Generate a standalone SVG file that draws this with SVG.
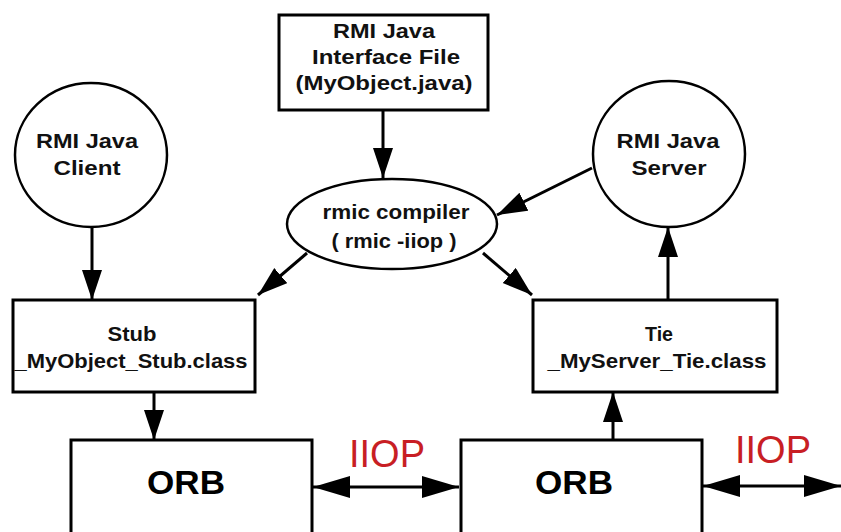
<svg xmlns="http://www.w3.org/2000/svg" width="841" height="532" viewBox="0 0 841 532">
<style>
.shape{fill:#fff;stroke:#000;stroke-width:2.5}
.box{fill:#fff;stroke:#000;stroke-width:3}
.t{font-family:"Liberation Sans",Arial,Helvetica,sans-serif;font-weight:bold;font-size:21px;fill:#111;text-anchor:middle}
.orb{font-size:33px;fill:#000}
.iiop{font-family:"Liberation Sans",Arial,Helvetica,sans-serif;font-size:38px;fill:#c81e24;text-anchor:middle}
.c{stroke:#000;stroke-width:3;fill:none}
</style>
<defs>
<marker id="ah" markerUnits="userSpaceOnUse" markerWidth="32" markerHeight="22" refX="30" refY="10" orient="auto-start-reverse" viewBox="0 0 32 22">
<path d="M0,0 L30,10 L0,20 Z" fill="#000"/>
</marker>
<marker id="ahb" markerUnits="userSpaceOnUse" markerWidth="40" markerHeight="24" refX="37" refY="11" orient="auto-start-reverse" viewBox="0 0 40 24">
<path d="M0,0 L37,11 L0,22 Z" fill="#000"/>
</marker>
</defs>
<rect width="841" height="532" fill="#fff"/>

<g id="connectors">
<line class="c" x1="383" y1="110" x2="383" y2="178" marker-end="url(#ah)"/>
<line class="c" x1="592" y1="168" x2="497" y2="215" marker-end="url(#ah)"/>
<line class="c" x1="307" y1="253" x2="258" y2="295" marker-end="url(#ah)"/>
<line class="c" x1="483" y1="253" x2="532" y2="295" marker-end="url(#ah)"/>
<line class="c" x1="92" y1="227" x2="92" y2="300" marker-end="url(#ah)"/>
<line class="c" x1="668" y1="300" x2="668" y2="227" marker-end="url(#ah)"/>
<line class="c" x1="154" y1="392" x2="154" y2="440" marker-end="url(#ah)"/>
<line class="c" x1="613" y1="440" x2="613" y2="392" marker-end="url(#ah)"/>
<line class="c" x1="313" y1="487" x2="459" y2="487" marker-start="url(#ahb)" marker-end="url(#ahb)"/>
<line class="c" x1="703" y1="486" x2="841" y2="486" marker-start="url(#ahb)" marker-end="url(#ahb)"/>
</g>

<g id="interface-file">
<rect class="box" x="279" y="15" width="209" height="95"/>
<text class="t" x="384" y="38" textLength="102" lengthAdjust="spacingAndGlyphs">RMI Java</text>
<text class="t" x="386" y="64" textLength="148" lengthAdjust="spacingAndGlyphs">Interface File</text>
<text class="t" x="384" y="90" textLength="177" lengthAdjust="spacingAndGlyphs">(MyObject.java)</text>
</g>

<g id="client">
<ellipse class="shape" cx="91" cy="155" rx="76" ry="72"/>
<text class="t" x="87" y="148" textLength="102" lengthAdjust="spacingAndGlyphs">RMI Java</text>
<text class="t" x="87" y="175" textLength="67" lengthAdjust="spacingAndGlyphs">Client</text>
</g>

<g id="server">
<ellipse class="shape" cx="669" cy="154" rx="76" ry="73"/>
<text class="t" x="668" y="148" textLength="103" lengthAdjust="spacingAndGlyphs">RMI Java</text>
<text class="t" x="669" y="175" textLength="75" lengthAdjust="spacingAndGlyphs">Server</text>
</g>

<g id="rmic">
<ellipse class="shape" cx="392" cy="224" rx="105" ry="45"/>
<text class="t" x="396" y="219" textLength="147" lengthAdjust="spacingAndGlyphs">rmic compiler</text>
<text class="t" x="394" y="248" textLength="125" lengthAdjust="spacingAndGlyphs">( rmic -iiop )</text>
</g>

<g id="stub">
<rect class="box" x="13" y="300" width="242" height="92"/>
<text class="t" x="132" y="341" textLength="49" lengthAdjust="spacingAndGlyphs">Stub</text>
<text class="t" x="131" y="368" textLength="233" lengthAdjust="spacingAndGlyphs">_MyObject_Stub.class</text>
</g>

<g id="tie">
<rect class="box" x="533" y="300" width="244" height="92"/>
<text class="t" x="659" y="341" textLength="28" lengthAdjust="spacingAndGlyphs">Tie</text>
<text class="t" x="657" y="368" textLength="219" lengthAdjust="spacingAndGlyphs">_MyServer_Tie.class</text>
</g>

<g id="orb-left">
<rect class="box" x="71" y="440" width="241" height="110"/>
<text class="t orb" x="186" y="494" textLength="78" lengthAdjust="spacingAndGlyphs">ORB</text>
</g>

<g id="orb-right">
<rect class="box" x="461" y="440" width="241" height="110"/>
<text class="t orb" x="574" y="494" textLength="78" lengthAdjust="spacingAndGlyphs">ORB</text>
</g>

<g id="iiop-labels">
<text class="iiop" x="387" y="467">IIOP</text>
<text class="iiop" x="773" y="463">IIOP</text>
</g>
</svg>
